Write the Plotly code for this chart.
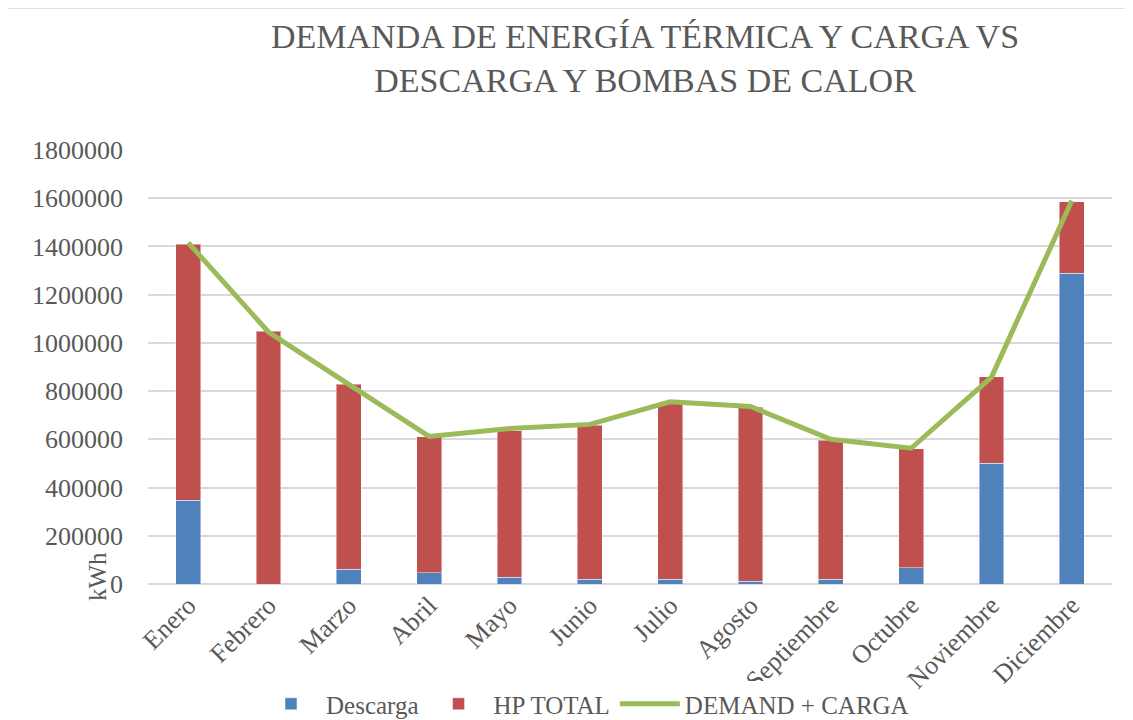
import plotly.graph_objects as go

months = ["Enero", "Febrero", "Marzo", "Abril", "Mayo", "Junio", "Julio",
          "Agosto", "Septiembre", "Octubre", "Noviembre", "Diciembre"]
descarga = [348000, 0, 61000, 47000, 28000, 19000, 20000, 12000, 19000, 68000, 500000, 1289000]
hp_total = [1062000, 1049000, 767000, 564000, 607000, 640000, 730000, 721000, 578000, 492000, 360000, 297000]
demand_carga = [1416000, 1045000, 828000, 612000, 645000, 662000, 756000, 736000, 600000, 563000, 858000, 1590000]
y_ticks = [0, 200000, 400000, 600000, 800000, 1000000, 1200000, 1400000, 1600000, 1800000]

FONT = "Liberation Serif"
GREY = "#595959"
GRID = "#d9d9d9"

fig = go.Figure()
fig.add_trace(go.Bar(x=months, y=descarga, name="Descarga",
                     marker=dict(color="#4F81BD", line=dict(color="rgba(255,255,255,0.45)", width=1))))
fig.add_trace(go.Bar(x=months, y=hp_total, name="HP TOTAL",
                     marker=dict(color="#C0504D", line=dict(color="rgba(255,255,255,0.45)", width=1))))
fig.add_trace(go.Scatter(x=months, y=demand_carga, name="DEMAND + CARGA", mode="lines",
                         line=dict(color="#9BBB59", width=5)))

# page has an 8px body margin; work in page pixels and convert
OFF = 8
W, H = 1133 - OFF, 720 - OFF
PL, PR, PT, PB = 148, 1112, 150, 584  # plot area in page pixels
L, T = PL - OFF, PT - OFF
R = W - (PR - OFF)
B = H - (PB - OFF)
pw, ph = PR - PL, PB - PT

def px(x):
    return (x - PL) / pw

def py(y):
    return (PB - y) / ph

fig.update_layout(
    width=W, height=H,
    barmode="stack", bargap=0.69,
    plot_bgcolor="white", paper_bgcolor="white",
    margin=dict(l=L, r=R, t=T, b=B, autoexpand=False),
    font=dict(family=FONT, color=GREY, size=25),
    showlegend=True,
    legend=dict(orientation="h", x=px(585), xanchor="center", y=py(704), yanchor="middle",
                font=dict(size=25, color=GREY), traceorder="normal", itemwidth=60),
    xaxis=dict(tickangle=-45, tickfont=dict(size=26, color=GREY), showgrid=False,
               showline=False, ticks=""),
    yaxis=dict(range=[0, 1800000], tickvals=y_ticks, ticktext=[str(v) for v in y_ticks],
               showgrid=True, gridcolor=GRID, gridwidth=1.5, zeroline=True,
               zerolinecolor=GRID, zerolinewidth=1.5, ticks="", ticklabelstandoff=24,
               tickfont=dict(size=26, color=GREY)),
    annotations=[
        dict(text="DEMANDA DE ENERGÍA TÉRMICA Y CARGA VS<br>DESCARGA Y BOMBAS DE CALOR",
             xref="paper", yref="paper", x=px(645), y=py(58), xanchor="center", yanchor="middle",
             showarrow=False, font=dict(size=34, color=GREY, family=FONT)),
        dict(text="kWh", xref="paper", yref="paper", x=px(97), y=py(577), textangle=-90,
             xanchor="center", yanchor="middle", showarrow=False,
             font=dict(size=25, color=GREY, family=FONT)),
    ],
    shapes=[dict(type="rect", xref="paper", yref="paper",
                 x0=px(7), x1=px(1145), y0=py(735), y1=py(8),
                 line=dict(color=GRID, width=1.5), fillcolor="rgba(0,0,0,0)", layer="below")],
)

fig.write_html("out.html")
